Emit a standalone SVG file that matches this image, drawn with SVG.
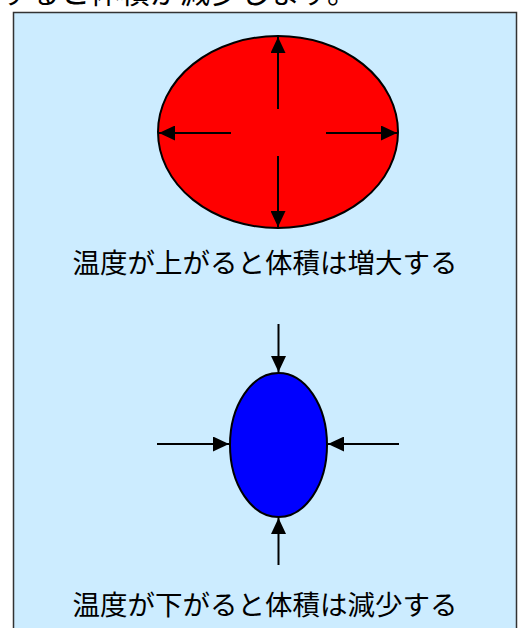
<svg xmlns="http://www.w3.org/2000/svg" width="518" height="628" viewBox="0 0 518 628">
<style>
.lbl{font-family:"Noto Sans CJK JP","Noto Sans CJK SC",sans-serif;fill:#000}
.ar{stroke:#000;stroke-width:2;fill:none;marker-end:url(#ah)}
.el{stroke:#000;stroke-width:2}
</style>
<defs>
<marker id="ah" markerUnits="userSpaceOnUse" markerWidth="16" markerHeight="15" refX="16" refY="7.5" orient="auto">
<path d="M0,0 L16,7.5 L0,15 z" fill="#000"/>
</marker>
</defs>
<rect width="518" height="628" fill="#fff"/>
<text class="lbl" x="0" y="3" font-size="30">すると体積が減少します。</text>
<rect id="frame" x="13.5" y="12.5" width="503" height="640" fill="#CCECFF" stroke="#333" stroke-width="1.5"/>
<g id="hot">
<ellipse class="el" cx="278" cy="132" rx="120" ry="96" fill="#FF0000"/>
</g>
<g id="cold">
<ellipse class="el" cx="278.5" cy="445" rx="48.5" ry="72" fill="#0000FF"/>
</g>
<g id="connectors">
<line class="ar" x1="278" y1="109" x2="278" y2="37"/>
<line class="ar" x1="278" y1="156" x2="278" y2="227"/>
<line class="ar" x1="231" y1="133" x2="159" y2="133"/>
<line class="ar" x1="326" y1="133" x2="397" y2="133"/>
<line class="ar" x1="278.5" y1="324" x2="278.5" y2="372"/>
<line class="ar" x1="278.5" y1="565" x2="278.5" y2="518"/>
<line class="ar" x1="157" y1="444" x2="229" y2="444"/>
<line class="ar" x1="399" y1="444" x2="328" y2="444"/>
</g>
<g id="label-hot"><text class="lbl" x="265" y="273" font-size="27.5" text-anchor="middle">温度が上がると体積は増大する</text></g>
<g id="label-cold"><text class="lbl" x="265" y="615" font-size="27.5" text-anchor="middle">温度が下がると体積は減少する</text></g>
</svg>
